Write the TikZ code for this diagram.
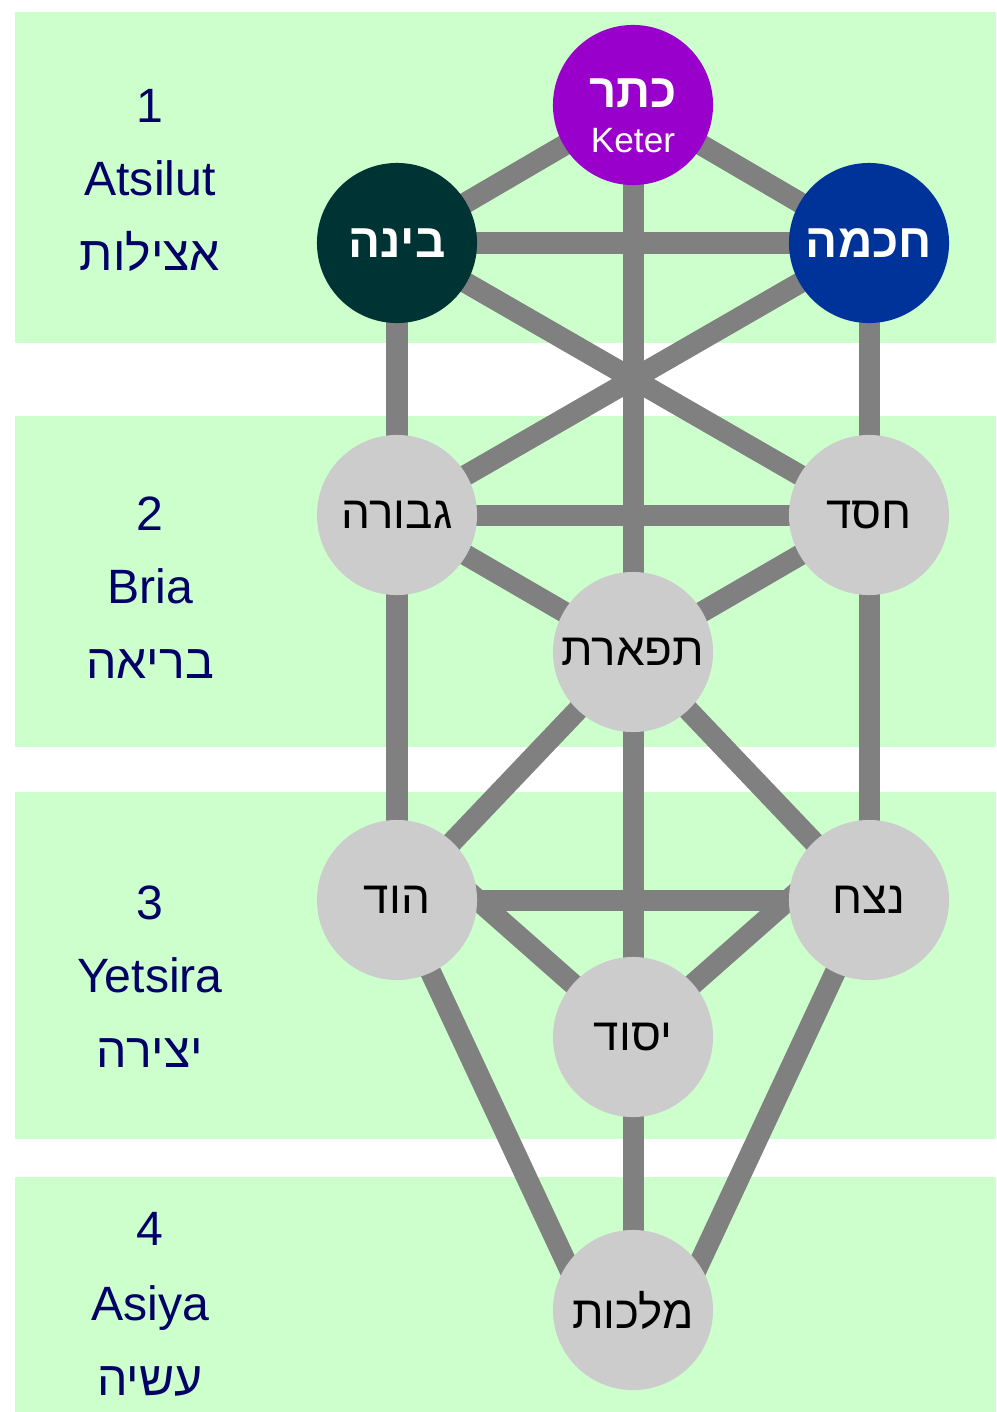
\documentclass[tikz,border=0pt]{standalone}
\usepackage{fontspec}
\setmainfont{Liberation Sans}
\newfontfamily\hebfont[Script=Hebrew]{Liberation Sans}
\TeXXeTstate=1
\newcommand{\hebr}[1]{{\hebfont\beginR #1\endR}}

\definecolor{bandgreen}{HTML}{CCFFCC}
\definecolor{channelgrey}{HTML}{808080}
\definecolor{sefiragrey}{HTML}{CCCCCC}
\definecolor{keterpurple}{HTML}{9900CC}
\definecolor{binahteal}{HTML}{003333}
\definecolor{chokhmahblue}{HTML}{003399}
\definecolor{worldnavy}{HTML}{000066}

\pgfdeclarelayer{background}
\pgfsetlayers{background,main}

\begin{document}
\begin{tikzpicture}[x=0.01cm,y=-0.01cm,
    sefira/.style={circle,minimum size=1.6cm,inner sep=0pt,fill=sefiragrey,
      font=\fontsize{13}{15}\selectfont},
    upper/.style={sefira,text=white,font=\fontsize{13.5}{15}\bfseries},
    channel/.style={draw=channelgrey,line width=0.21cm,shorten <=-0.15cm,shorten >=-0.15cm},
    world/.style={text=worldnavy,anchor=base,inner sep=0pt,
      font=\fontsize{13.7}{16}\selectfont}]
    \useasboundingbox (0,0) rectangle (996,1412);
    % the ten sefirot
    \node [upper,fill=keterpurple,align=center,font=\fontsize{13.5}{12.8}\selectfont] (keter) at (633,105)
      {\rule{0pt}{14.5pt}\textbf{\hebr{כתר}}\\{\fontsize{10}{12}\selectfont Keter}};
    \node [upper,fill=binahteal] (binah) at (397,243) {\hebr{בינה}};
    \node [upper,fill=chokhmahblue] (chokhmah) at (869,243) {\hebr{חכמה}};
    \node [sefira] (gevurah) at (397,515) {\hebr{גבורה}};
    \node [sefira] (chesed) at (869,515) {\hebr{חסד}};
    \node [sefira] (tiferet) at (633,652) {\hebr{תפארת}};
    \node [sefira] (hod) at (397,900) {\hebr{הוד}};
    \node [sefira] (netzach) at (869,900) {\hebr{נצח}};
    \node [sefira] (yesod) at (633,1037) {\hebr{יסוד}};
    \node [sefira] (malkhut) at (633,1310) {\hebr{מלכות}};
    % the four worlds
    \node [world] (num1) at (150,122) {1};
    \node [world] (name1) at (150,195) {Atsilut};
    \node [world] (heb1) at (150,270) {\hebr{אצילות}};
    \node [world] (num2) at (150,530) {2};
    \node [world] (name2) at (150,603) {Bria};
    \node [world] (heb2) at (150,678) {\hebr{בריאה}};
    \node [world] (num3) at (150,919) {3};
    \node [world] (name3) at (150,992) {Yetsira};
    \node [world] (heb3) at (150,1067) {\hebr{יצירה}};
    \node [world] (num4) at (150,1245) {4};
    \node [world] (name4) at (150,1320) {Asiya};
    \node [world] (heb4) at (150,1395) {\hebr{עשיה}};
    \begin{pgfonlayer}{background}
    \fill [bandgreen] (15,12) rectangle (996,343);
    \fill [bandgreen] (15,416) rectangle (996,747);
    \fill [bandgreen] (15,792) rectangle (996,1139);
    \fill [bandgreen] (15,1177) rectangle (996,1412);
    % the paths
    \draw [channel] (keter.center) -- (binah.center);
    \draw [channel] (keter.center) -- (chokhmah.center);
    \draw [channel] (keter.center) -- (tiferet.center);
    \draw [channel] (binah.center) -- (chokhmah.center);
    \draw [channel] (binah.center) -- (gevurah.center);
    \draw [channel] (chokhmah.center) -- (chesed.center);
    \draw [channel] (binah.center) -- (chesed.center);
    \draw [channel] (chokhmah.center) -- (gevurah.center);
    \draw [channel] (gevurah.center) -- (chesed.center);
    \draw [channel] (gevurah.center) -- (tiferet.center);
    \draw [channel] (chesed.center) -- (tiferet.center);
    \draw [channel] (gevurah.center) -- (hod.center);
    \draw [channel] (chesed.center) -- (netzach.center);
    \draw [channel] (tiferet.center) -- (hod.center);
    \draw [channel] (tiferet.center) -- (netzach.center);
    \draw [channel] (tiferet.center) -- (yesod.center);
    \draw [channel] (hod.center) -- (netzach.center);
    \draw [channel] (hod.east) -- (yesod.center);
    \draw [channel] (netzach.west) -- (yesod.center);
    \draw [channel] (hod.center) -- (malkhut.145);
    \draw [channel] (netzach.center) -- (malkhut.35);
    \draw [channel] (yesod.center) -- (malkhut.center);
    \end{pgfonlayer}
\end{tikzpicture}
\end{document}
